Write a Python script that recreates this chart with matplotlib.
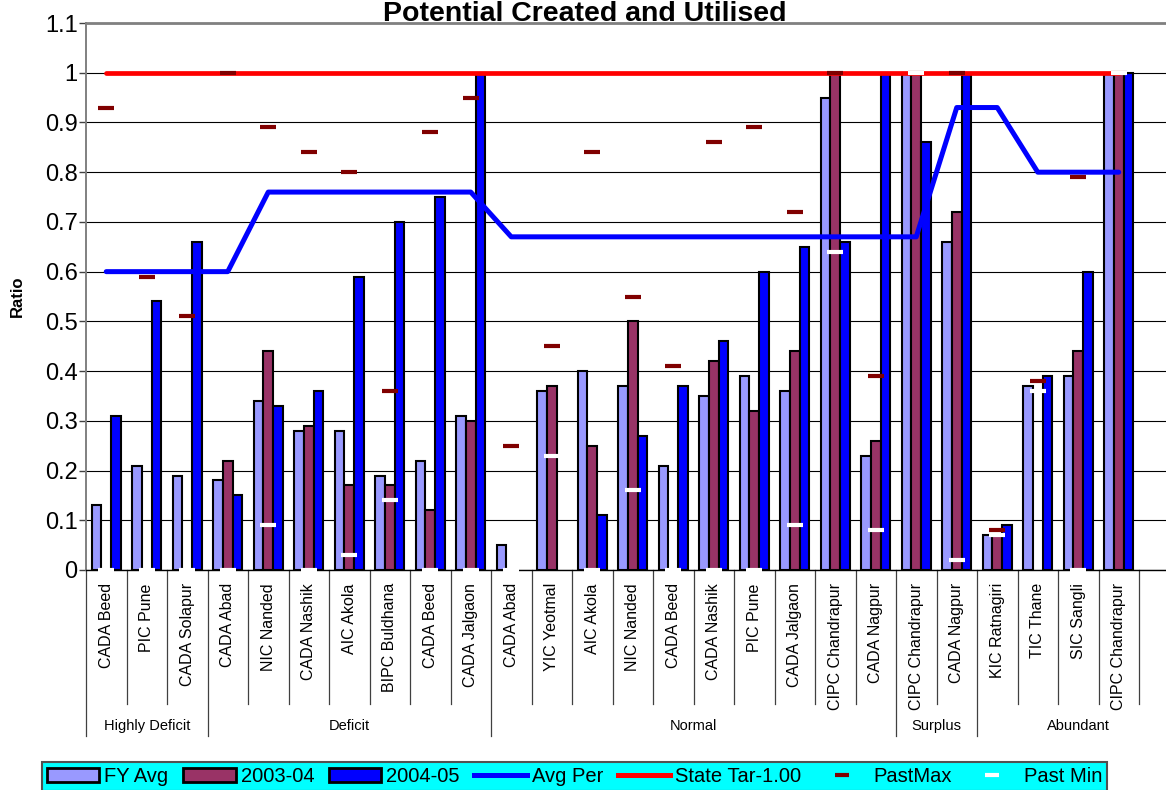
import numpy as np
import matplotlib
matplotlib.use("Agg")
import matplotlib.pyplot as plt
from matplotlib.patches import Patch
from matplotlib.lines import Line2D

plt.rcParams['font.family'] = ['Liberation Sans', 'DejaVu Sans']

# ---- data -----------------------------------------------------------------
categories = [
    "CADA Beed", "PIC Pune", "CADA Solapur",
    "CADA Abad", "NIC Nanded", "CADA Nashik", "AIC Akola", "BIPC Buldhana",
    "CADA Beed", "CADA Jalgaon",
    "CADA Abad", "YIC Yeotmal", "AIC Akola", "NIC Nanded", "CADA Beed",
    "CADA Nashik", "PIC Pune", "CADA Jalgaon", "CIPC Chandrapur", "CADA Nagpur",
    "CIPC Chandrapur", "CADA Nagpur",
    "KIC Ratnagiri", "TIC Thane", "SIC Sangli", "CIPC Chandrapur",
]
groups = ["Highly Deficit", "Deficit", "Normal", "Surplus", "Abundant"]
group_sizes = [3, 7, 10, 2, 4]

nan = np.nan
fy_avg = [0.13, 0.21, 0.19,
          0.18, 0.34, 0.28, 0.28, 0.19, 0.22, 0.31,
          0.05, 0.36, 0.40, 0.37, 0.21, 0.35, 0.39, 0.36, 0.95, 0.23,
          1.00, 0.66,
          0.07, 0.37, 0.39, 1.00]
y2003_04 = [nan, nan, nan,
            0.22, 0.44, 0.29, 0.17, 0.17, 0.12, 0.30,
            nan, 0.37, 0.25, 0.50, nan, 0.42, 0.32, 0.44, 1.00, 0.26,
            1.00, 0.72,
            0.07, nan, 0.44, 1.00]
y2004_05 = [0.31, 0.54, 0.66,
            0.15, 0.33, 0.36, 0.59, 0.70, 0.75, 1.00,
            nan, nan, 0.11, 0.27, 0.37, 0.46, 0.60, 0.65, 0.66, 1.00,
            0.86, 1.00,
            0.09, 0.39, 0.60, 1.00]
avg_per = [0.60, 0.60, 0.60,
           0.60, 0.76, 0.76, 0.76, 0.76, 0.76, 0.76,
           0.67, 0.67, 0.67, 0.67, 0.67, 0.67, 0.67, 0.67, 0.67, 0.67,
           0.67, 0.93,
           0.93, 0.80, 0.80, 0.80]
state_target = 1.00
past_max = [0.93, 0.59, 0.51,
            1.00, 0.89, 0.84, 0.80, 0.36, 0.88, 0.95,
            0.25, 0.45, 0.84, 0.55, 0.41, 0.86, 0.89, 0.72, 1.00, 0.39,
            1.00, 1.00,
            0.08, 0.38, 0.79, 1.00]
past_min = [0.00, 0.00, 0.00,
            0.00, 0.09, 0.00, 0.03, 0.14, 0.00, 0.00,
            0.00, 0.23, 0.00, 0.16, 0.00, 0.00, 0.00, 0.09, 0.64, 0.08,
            1.00, 0.02,
            0.07, 0.36, 0.00, 1.00]
y_ticks = [0, 0.1, 0.2, 0.3, 0.4, 0.5, 0.6, 0.7, 0.8, 0.9, 1.0, 1.1]
y_tick_labels = ["0", "0.1", "0.2", "0.3", "0.4", "0.5", "0.6", "0.7",
                 "0.8", "0.9", "1", "1.1"]

# ---- figure ---------------------------------------------------------------
W, H = 1166, 790
fig = plt.figure(figsize=(W / 100, H / 100), dpi=100)
ax_left, ax_right, ax_top, ax_bottom = 86, 1179.5, 23, 570
ax = fig.add_axes([ax_left / W, 1 - ax_bottom / H,
                   (ax_right - ax_left) / W, (ax_bottom - ax_top) / H])
ax_h_px = ax_bottom - ax_top

x = np.arange(len(categories))
bw = 0.235
c_fy, c_03, c_04 = "#9999FF", "#993366", "#0000FF"
ax.bar(x - bw, fy_avg, bw, color=c_fy, edgecolor="black", linewidth=1.5, zorder=2)
ax.bar(x, y2003_04, bw, color=c_03, edgecolor="black", linewidth=1.5, zorder=2)
ax.bar(x + bw, y2004_05, bw, color=c_04, edgecolor="black", linewidth=1.5, zorder=2)

ax.plot(x, avg_per, color="#0000FF", lw=3.6, zorder=4, solid_capstyle="round")
ax.plot([x[0], x[-1]], [state_target, state_target], color="#FF0000", lw=3.4,
        zorder=4, solid_capstyle="round")
ax.plot(x, past_max, ls="none", marker="_", ms=11.3, mew=3, color="#800000",
        zorder=6, clip_on=False)
ax.plot(x, past_min, ls="none", marker="_", ms=11.3, mew=3, color="white",
        zorder=7, clip_on=False)

# ---- axes styling ---------------------------------------------------------
ax.set_xlim(-0.5, 26.5)
ax.set_ylim(0, 1.1)
ax.set_yticks(y_ticks)
ax.set_yticklabels(y_tick_labels, fontsize=17)
ax.yaxis.grid(True, color="black", lw=0.8)
ax.set_axisbelow(True)
ax.tick_params(axis="y", direction="out", length=5, width=1, color="#404040", pad=1)

ax.spines["right"].set_visible(False)
ax.spines["top"].set_color("#808080")
ax.spines["top"].set_linewidth(2)
ax.spines["left"].set_color("#808080")
ax.spines["left"].set_linewidth(1.4)
ax.spines["bottom"].set_color("black")
ax.spines["bottom"].set_linewidth(1.0)

ax.set_xticks(x)
ax.set_xticklabels(categories, rotation=90, fontsize=11.5)
ax.tick_params(axis="x", length=0, pad=9.5)

ax.set_ylabel("Ratio", fontsize=12, fontweight="bold")
ax.yaxis.set_label_coords((25 - ax_left) / (ax_right - ax_left), 0.5)

# category separators and group labels below the axis
xt = ax.get_xaxis_transform()
short = -134 / ax_h_px
long_ = -166 / ax_h_px
edges = np.cumsum([0] + group_sizes) - 0.5
group_edges = set(edges[:-1])
for b in np.arange(-0.5, len(categories)):
    ymin = long_ if b in group_edges else short
    ax.plot([b, b], [ymin, 0], transform=xt, color="#404040", lw=0.9,
            clip_on=False, zorder=1)
group_right = list(edges[1:-1]) + [26.5]
for name, lft, rgt in zip(groups, edges[:-1], group_right):
    ax.text((lft + rgt) / 2, -156 / ax_h_px, name, transform=xt,
            ha="center", va="center", fontsize=10.5)

# ---- title & legend -------------------------------------------------------
fig.text(585 / W, 1 - 21 / H, "Potential Created and Utilised", ha="center",
         va="baseline", fontsize=20.5, fontweight="bold")

handles = [
    Patch(facecolor=c_fy, edgecolor="black", linewidth=2),
    Patch(facecolor=c_03, edgecolor="black", linewidth=2),
    Patch(facecolor=c_04, edgecolor="black", linewidth=2),
    Line2D([], [], color="#0000FF", lw=3.6),
    Line2D([], [], color="#FF0000", lw=3.6),
    Line2D([], [], ls="none", marker="_", ms=10, mew=3, color="#800000"),
    Line2D([], [], ls="none", marker="_", ms=10, mew=3, color="white"),
]
labels = ["FY Avg", "2003-04", "2004-05", "Avg Per", "State Tar-1.00",
          "PastMax", "Past Min"]
leg = fig.legend(handles, labels, loc="upper left",
                 bbox_to_anchor=(42 / W, 1 - 762 / H - 0.05, 1065 / W, 0.05),
                 ncol=7, mode="expand", fontsize=14.5, handlelength=2.6,
                 handletextpad=0.25, columnspacing=0.6, borderaxespad=0,
                 borderpad=0.25, frameon=True, fancybox=False)
leg.get_frame().set_facecolor("#00FFFF")
leg.get_frame().set_edgecolor("#505050")
leg.get_frame().set_linewidth(1.5)
leg.get_frame().set_alpha(1)

fig.savefig("out.png", dpi=100)
